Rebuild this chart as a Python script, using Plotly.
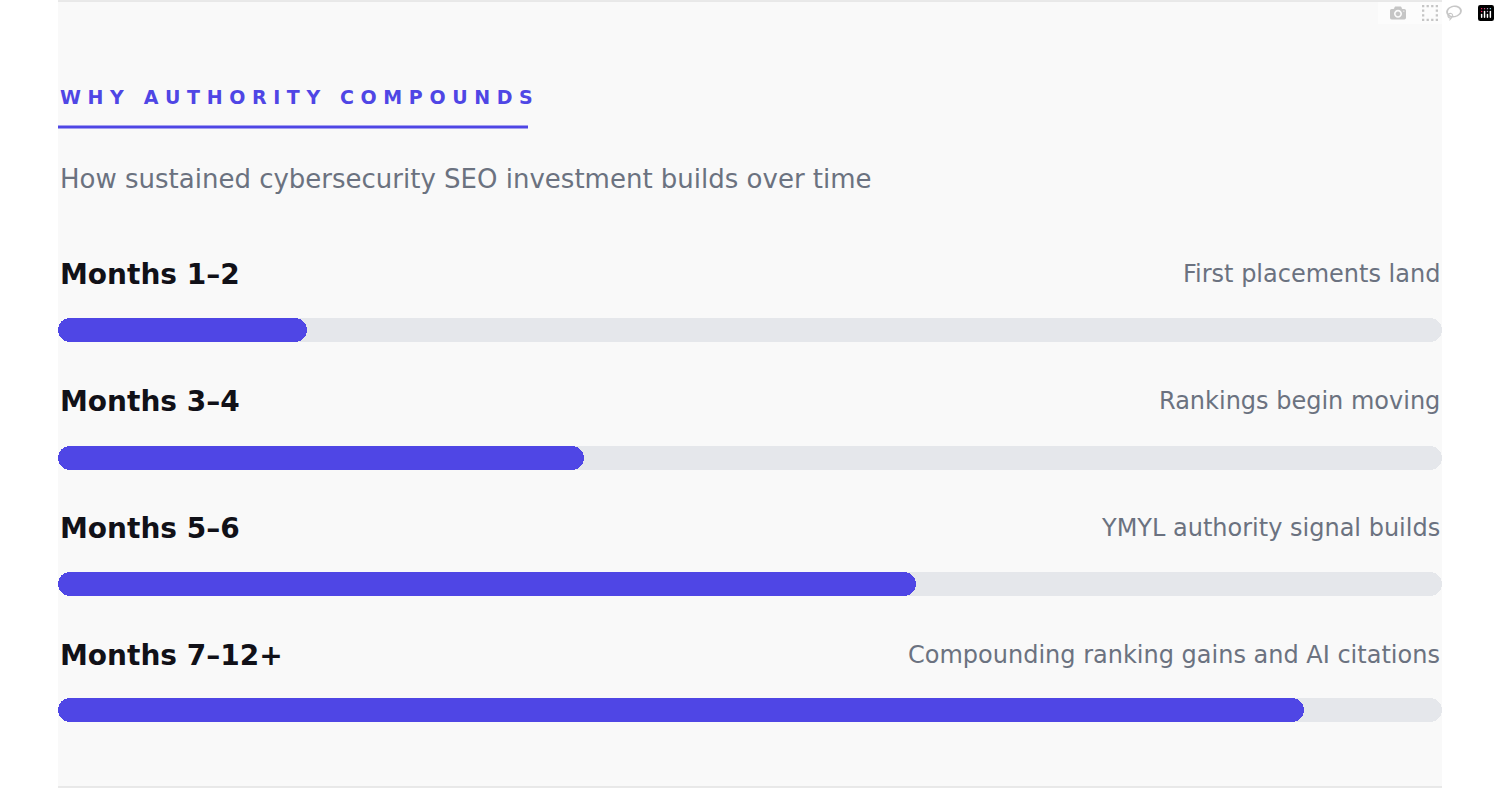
import plotly.graph_objects as go

stages = ["Months 1–2", "Months 3–4", "Months 5–6", "Months 7–12+"]
notes = ["First placements land", "Rankings begin moving", "YMYL authority signal builds",
         "Compounding ranking gains and AI citations"]
progress = [0.18, 0.38, 0.62, 0.90]
bar_y = [330, 458, 584, 710]
label_y = [274, 401, 528, 655]

W, H = 1500, 788
L, R = 58, 1442
def px(v):  # pixel -> x data coordinate
    return (v - L) / (R - L)

fig = go.Figure()
fig.add_trace(go.Bar(x=[1]*4, y=bar_y, orientation="h", width=24, base=0,
                     marker=dict(color="#e5e7eb", cornerradius=12, line=dict(width=0)),
                     hoverinfo="skip", showlegend=False))
fig.add_trace(go.Bar(x=progress, y=bar_y, orientation="h", width=24, base=0,
                     marker=dict(color="#4f46e5", cornerradius=12, line=dict(width=0)),
                     showlegend=False))

ann = []
for s, n, y in zip(stages, notes, label_y):
    ann.append(dict(x=0, y=y, xref="x", yref="y", text=f"<b>{s}</b>", showarrow=False,
                    xanchor="left", yanchor="middle", font=dict(size=28, color="#111118")))
    ann.append(dict(x=1, y=y, xref="x", yref="y", text=n, showarrow=False,
                    xanchor="right", yanchor="middle", font=dict(size=24, color="#6b7280")))
ann.append(dict(x=0, y=97, xref="x", yref="y", text="<b>W H Y   A U T H O R I T Y   C O M P O U N D S</b>",
                showarrow=False, xanchor="left", yanchor="middle", font=dict(size=19, color="#4f46e5")))
ann.append(dict(x=0, y=179, xref="x", yref="y", text="How sustained cybersecurity SEO investment builds over time",
                showarrow=False, xanchor="left", yanchor="middle", font=dict(size=26, color="#6b7280")))

r = 28
x0, y0, x1, y1 = 1, 1, W-1, H-1
pts = lambda a, b: f"{px(a)},{b}"
path = (f"M {pts(x0+r,y0)} L {pts(x1-r,y0)} Q {pts(x1,y0)} {pts(x1,y0+r)} L {pts(x1,y1-r)} "
        f"Q {pts(x1,y1)} {pts(x1-r,y1)} L {pts(x0+r,y1)} Q {pts(x0,y1)} {pts(x0,y1-r)} "
        f"L {pts(x0,y0+r)} Q {pts(x0,y0)} {pts(x0+r,y0)} Z")
shapes = [dict(type="path", xref="x", yref="y", path=path, fillcolor="#f9f9f9",
               line=dict(color="#e2e2e2", width=1.5), layer="below"),
          dict(type="line", xref="x", yref="y", x0=0, x1=px(528), y0=127, y1=127,
               line=dict(color="#4f46e5", width=3))]

fig.update_layout(
    width=W, height=H, margin=dict(l=0, r=0, t=0, b=0),
    paper_bgcolor="white", plot_bgcolor="rgba(0,0,0,0)",
    font=dict(family="DejaVu Sans"), barmode="overlay", bargap=0,
    xaxis=dict(domain=[L/W, R/W], range=[0, 1], visible=False, fixedrange=True),
    yaxis=dict(domain=[0, 1], range=[H, 0], visible=False, fixedrange=True),
    annotations=ann, shapes=shapes,
)
fig.write_html("out.html", post_script="document.body.style.margin='0';document.body.style.overflow='hidden';")
